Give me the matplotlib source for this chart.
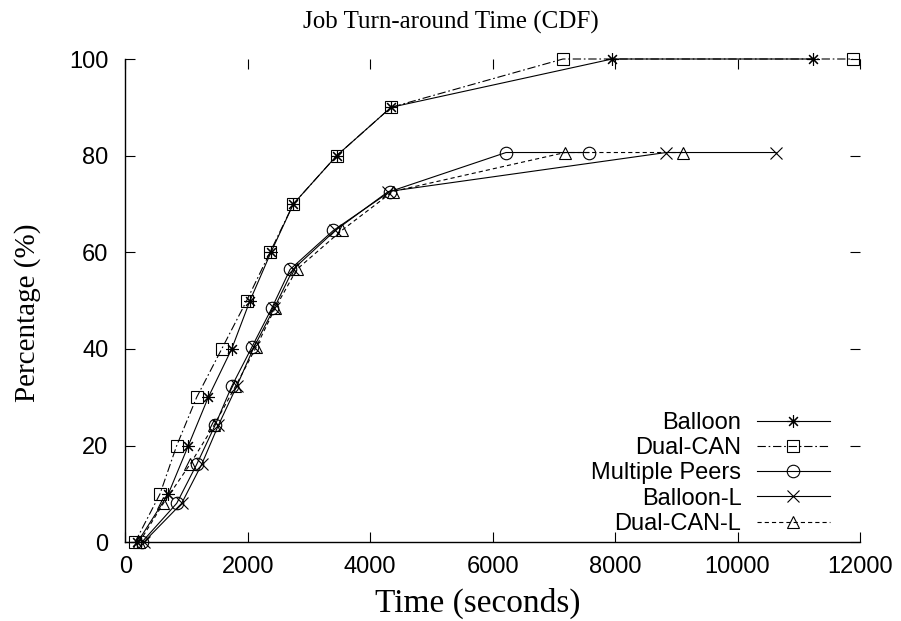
import matplotlib
matplotlib.use("Agg")
import matplotlib.pyplot as plt

plt.rcParams['lines.scale_dashes'] = False

# ---- data ----
upper_pct = [0, 10, 20, 30, 40, 50, 60, 70, 80, 90, 100, 100]
lower_pct = [0, 8.06, 16.13, 24.19, 32.26, 40.32, 48.39, 56.45, 64.52, 72.58, 80.65, 80.65]

balloon_t = [200, 704, 1031, 1357, 1739, 2038, 2380, 2746, 3454, 4341, 7951, 11233]
dualcan_t = [160, 568, 841, 1167, 1576, 1984, 2365, 2746, 3454, 4341, 7149, 11885]
multi_t = [270, 841, 1168, 1467, 1739, 2066, 2392, 2692, 3399, 4325, 6219, 7574]
balloonL_t = [300, 922, 1249, 1521, 1820, 2100, 2430, 2740, 3430, 4297, 8832, 10629]
dualcanL_t = [230, 623, 1058, 1450, 1800, 2136, 2446, 2801, 3535, 4370, 7183, 9110]

labels = ["Balloon", "Dual-CAN", "Multiple Peers", "Balloon-L", "Dual-CAN-L"]

xticks = [0, 2000, 4000, 6000, 8000, 10000, 12000]
yticks = [0, 20, 40, 60, 80, 100]

SERIF = ["Liberation Serif", "DejaVu Serif"]
SANS = ["Liberation Sans", "DejaVu Sans"]

fig = plt.figure(figsize=(9.01, 6.21), dpi=100)
ax = fig.add_axes([125.2 / 901, 1 - 542.3 / 621, (860 - 125.2) / 901, (542.3 - 59) / 621])

lw = 0.8
ms = 9
series = [
    (balloon_t, upper_pct, dict(marker=(8, 2, 0), linestyle='-')),
    (dualcan_t, upper_pct, dict(marker='s', linestyle=(0, (6, 2, 1.2, 2)))),
    (multi_t, lower_pct, dict(marker='o', linestyle='-')),
    (balloonL_t, lower_pct, dict(marker='x', linestyle='-', markersize=8)),
    (dualcanL_t, lower_pct, dict(marker='^', linestyle=(0, (3, 2.2)))),
]
for (xs, ys, st), lab in zip(series, labels):
    kw = dict(color='black', linewidth=lw, markersize=ms, markerfacecolor='none',
              markeredgecolor='black', markeredgewidth=0.8, clip_on=False)
    kw.update(st)
    ax.plot(xs, ys, label=lab, **kw)

ax.set_xlim(0, 12000)
ax.set_ylim(0, 100)
ax.set_xticks(xticks)
ax.set_yticks(yticks)
ax.set_xticklabels([str(v) for v in xticks], fontfamily=SANS, fontsize=17)
ax.set_yticklabels([str(v) for v in yticks], fontfamily=SANS, fontsize=17)
ax.tick_params(direction='in', length=7, width=0.8, top=True, right=True)
ax.tick_params(axis='x', pad=10)
ax.tick_params(axis='y', pad=12)
for s in ['top', 'right']:
    ax.spines[s].set_visible(False)
for s in ['left', 'bottom']:
    ax.spines[s].set_linewidth(1.0)

fig.text(451 / 901, 1 - 22 / 621, "Job Turn-around Time (CDF)", ha='center', va='center',
         fontfamily=SERIF, fontsize=18)
fig.text(478 / 901, 1 - 603 / 621, "Time (seconds)", ha='center', va='center',
         fontfamily=SERIF, fontsize=24)
fig.text(28 / 901, 1 - 313 / 621, "Percentage (%)", ha='center', va='center',
         rotation=90, fontfamily=SERIF, fontsize=21)

leg = ax.legend(loc='lower right', bbox_to_anchor=(830 / 901, 1 - 535 / 621),
                bbox_transform=fig.transFigure, frameon=False, markerfirst=False,
                prop={'family': SANS, 'size': 17}, handlelength=3.1, handletextpad=0.65,
                labelspacing=0.14, borderpad=0, borderaxespad=0)

fig.savefig("out.png", dpi=100)
